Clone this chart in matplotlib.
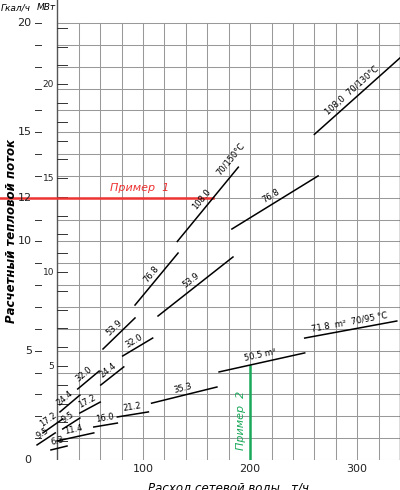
import numpy as np
import matplotlib
matplotlib.use("Agg")
import matplotlib.pyplot as plt

# chains of segments: (x0, y0, x1, y1) in t/h and Gcal/h, labels
chainA_labels = ["9.5", "17.2", "24.4", "32.0", "53.9", "76.8", "108.0"]
chainA_x0 = [1, 6.5, 22.4, 39, 62.6, 92.5, 132]
chainA_y0 = [0.69, 1.24, 2.2, 3.25, 5.08, 7.09, 10.0]
chainA_x1 = [18, 25, 41, 59, 92.5, 132.7, 189]
chainA_y1 = [1.24, 1.88, 2.97, 4.07, 6.5, 9.47, 13.4]

chainB_labels = ["9.5", "17.2", "24.4", "32.0", "53.9", "76.8", "108,0  70/130°C"]
chainB_x0 = [25, 41, 60.5, 81, 114, 183, 260]
chainB_y0 = [1.42, 2.15, 3.43, 4.76, 6.59, 10.57, 14.9]
chainB_x1 = [41, 60, 82, 109, 184, 263.5, 340]
chainB_y1 = [1.92, 2.65, 4.26, 5.58, 9.29, 13.0, 18.4]

chainC_labels = ["6.3", "11.4", "16.0", "21.2", "35.3", "50.5 m²", "71.8  m²  70/95 °C"]
chainC_x0 = [14, 19.6, 54, 76, 108, 171, 251]
chainC_y0 = [0.46, 0.87, 1.51, 1.97, 2.6, 4.03, 5.58]
chainC_x1 = [29, 54, 76, 105, 169, 251, 337]
chainC_y1 = [0.64, 1.24, 1.69, 2.2, 3.34, 4.9, 6.36]

xticks = [100, 200, 300]
gcal_ticks = [0, 5, 10, 12, 15, 20]
mw_ticks = [5, 10, 15, 20]
example1_q = 12.0
example1_g = 165
example2_g = 200
example2_q = 4.3

fig = plt.figure(figsize=(4, 4.9), dpi=100)
ax = fig.add_axes([0, 30/490, 1, 460/490])
ax.set_xlim(-33.6, 340)
ax.set_ylim(0, 21.05)
ax.axis("off")

grid_c = "#999999"
for y in range(0, 21):
    ax.plot([20, 340], [y, y], color=grid_c, lw=0.75)
for x in range(40, 341, 20):
    ax.plot([x, x], [0, 20], color=grid_c, lw=0.75)
ax.plot([340, 340], [0, 20], color="#555555", lw=1.0)
ax.plot([20, 20], [0, 21.05], color="#555555", lw=1.0)

# Gcal ticks
for y in range(0, 21):
    ax.plot([-1, 5], [y, y], color="#333333", lw=0.7)
for y in gcal_ticks:
    ax.text(-4, y, str(y), ha="right", va="center", fontsize=8, color="#222222")
# MW ticks
k = 0.86
for m in range(1, 24):
    if m * k <= 20.5:
        ax.plot([20, 29], [m * k, m * k], color="#333333", lw=0.7)
for m in mw_ticks:
    ax.text(17, m * k, str(m), ha="right", va="center", fontsize=6.5, color="#222222")

ax.text(-33, 20.7, "Гкал/ч", fontsize=6.5, style="italic", ha="left", va="center")
ax.text(1, 20.7, "МВт", fontsize=6.5, style="italic", ha="left", va="center")
ax.text(-22.5, 10.5, "Расчетный тепловой поток", rotation=90, fontsize=8.5,
        style="italic", weight="bold", ha="center", va="center")

for x in xticks:
    ax.text(x, -0.2, str(x), ha="center", va="top", fontsize=8, color="#222222")
ax.text(180, -0.95, "Расход сетевой воды,  т/ч", ha="center", va="top",
        fontsize=8.5, style="italic")

# examples
ax.plot([-33.6, example1_g], [example1_q, example1_q], color="#ee3333", lw=1.8)
ax.text(97, 12.45, "Пример  1", color="#ee3333", fontsize=8, style="italic",
        ha="center", va="center")
ax.plot([example2_g, example2_g], [0, example2_q], color="#1aa85a", lw=1.8)
ax.text(191.5, 1.8, "Пример  2", color="#1aa85a", fontsize=8, style="italic",
        rotation=90, ha="center", va="center")

fig.canvas.draw()

def seg_angle(x0, y0, x1, y1):
    p0 = ax.transData.transform((x0, y0))
    p1 = ax.transData.transform((x1, y1))
    return np.degrees(np.arctan2(p1[1] - p0[1], p1[0] - p0[0]))

def draw_chain(x0s, y0s, x1s, y1s, labels, frac=0.5):
    for x0, y0, x1, y1, lab in zip(x0s, y0s, x1s, y1s, labels):
        ax.plot([x0, x1], [y0, y1], color="black", lw=1.1)
        ang = seg_angle(x0, y0, x1, y1)
        xm = x0 + (x1 - x0) * frac
        ym = y0 + (y1 - y0) * frac
        ax.annotate(lab, (xm, ym), xytext=(-2 * np.sin(np.radians(ang)), 2 * np.cos(np.radians(ang))),
                    textcoords="offset points", rotation=ang, rotation_mode="anchor",
                    ha="center", va="bottom", fontsize=6)

draw_chain(chainA_x0, chainA_y0, chainA_x1, chainA_y1, chainA_labels)
draw_chain(chainB_x0, chainB_y0, chainB_x1, chainB_y1, chainB_labels)
draw_chain(chainC_x0, chainC_y0, chainC_x1, chainC_y1, chainC_labels)

# label 70/150 at the top end of chain A
angA = seg_angle(chainA_x0[-1], chainA_y0[-1], chainA_x1[-1], chainA_y1[-1])
ax.annotate("70/150°C", (chainA_x1[-1], chainA_y1[-1]), xytext=(-3, 4),
            textcoords="offset points", rotation=angA, rotation_mode="anchor",
            ha="center", va="bottom", fontsize=6)

fig.savefig("out.png", dpi=100)
